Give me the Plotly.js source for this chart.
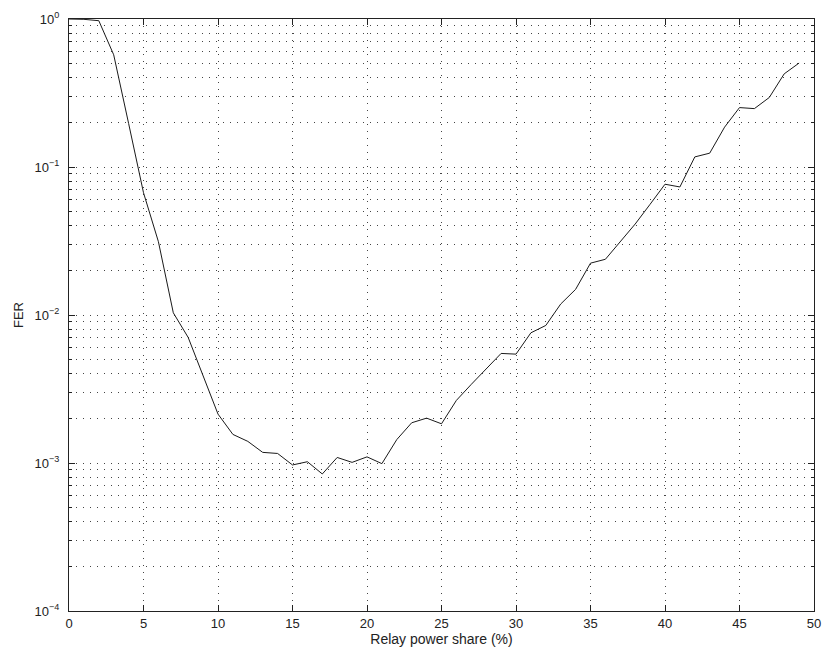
<!DOCTYPE html>
<html>
<head>
<meta charset="utf-8">
<script src="https://cdn.plot.ly/plotly-3.0.1.min.js"></script>
<style>html,body{margin:0;padding:0;background:#fff;}#chart{width:822px;height:654px;}</style>
</head>
<body>
<div id="chart"></div>
<script>
// Relay power share (%)
var relayShare = [0,1,2,3,4,5,6,7,8,9,10,11,12,13,14,15,16,17,18,19,20,21,22,23,24,25,26,27,28,29,30,31,32,33,34,35,36,37,38,39,40,41,42,43,44,45,46,47,48,49];
// Frame error rate
var fer = [1.0,0.995,0.974,0.573,0.197,0.067,0.0313,0.01035,0.00705,0.00394,0.00214,0.00156,0.0014,0.00118,0.00116,0.00097,0.00102,0.000843,0.00109,0.00101,0.0011,0.00099,0.00144,0.00187,0.00201,0.00184,0.00265,0.0034,0.00432,0.0055,0.00544,0.00758,0.0085,0.01186,0.0149,0.0224,0.0238,0.0313,0.0412,0.056,0.0765,0.0733,0.117,0.124,0.186,0.252,0.248,0.295,0.426,0.504];
var yTickVals = [1e-4,1e-3,1e-2,1e-1,1];
var yTickText = ['10<sup>−4</sup>','10<sup>−3</sup>','10<sup>−2</sup>','10<sup>−1</sup>','10<sup>0</sup>'];
var xTickVals = [0,5,10,15,20,25,30,35,40,45,50];

var gridDash = '1px,6px';
var gridColor = '#444';

var trace = {
  x: relayShare, y: fer, type: 'scatter', mode: 'lines',
  line: {color: '#1a1a1a', width: 1}, showlegend: false, hoverinfo: 'none'
};

var layout = {
  width: 822, height: 654,
  margin: {l: 69, r: 8, t: 19, b: 43},
  paper_bgcolor: '#fff', plot_bgcolor: '#fff',
  font: {family: 'Liberation Sans, Arial, sans-serif', size: 13, color: '#222'},
  xaxis: {
    range: [0, 50], tickvals: xTickVals, ticks: 'inside', ticklen: 6, tickcolor: '#222',
    showline: true, linecolor: '#222', linewidth: 1, mirror: 'allticks',
    showgrid: true, gridcolor: gridColor, griddash: gridDash, gridwidth: 1,
    zeroline: false, tickfont: {size: 13, color: '#222'},
    title: {text: 'Relay power share (%)', font: {size: 14, color: '#222'}, standoff: 2}
  },
  yaxis: {
    type: 'log', range: [-4, 0], tickvals: yTickVals, ticktext: yTickText,
    ticks: 'inside', ticklen: 6, tickcolor: '#222', ticklabelstandoff: 6,
    showline: true, linecolor: '#222', linewidth: 1, mirror: 'allticks',
    showgrid: true, gridcolor: gridColor, griddash: gridDash, gridwidth: 1,
    zeroline: false, tickfont: {size: 13, color: '#222'},
    minor: {dtick: 'D1', showgrid: true, gridcolor: gridColor, griddash: gridDash, gridwidth: 1, ticks: 'inside', ticklen: 3, tickcolor: '#222'},
    title: {text: 'FER', font: {size: 13, color: '#222'}, standoff: 8}
  }
};

Plotly.newPlot('chart', [trace], layout, {staticPlot: true, displayModeBar: false});
</script>
</body>
</html>
